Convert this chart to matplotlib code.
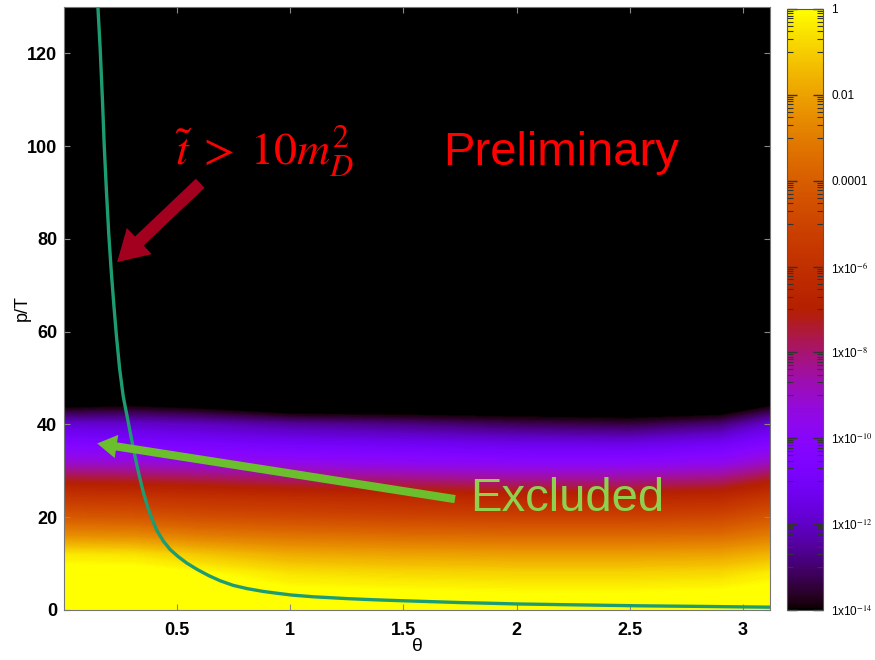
import numpy as np
import matplotlib
matplotlib.use('Agg')
import matplotlib.pyplot as plt
from matplotlib.colors import LogNorm
from matplotlib.cm import ScalarMappable
from matplotlib.ticker import FixedLocator, NullFormatter

plt.rcParams['font.family'] = ['Liberation Sans', 'DejaVu Sans']
plt.rcParams['mathtext.fontset'] = 'stix'

# grid of the rate map: log10 of the value on (theta, p/T) nodes
theta_nodes = [0.0, 0.3, 0.6, 1.0, 1.5, 2.0, 2.5, 2.9, 3.12]
p_nodes = [0, 4, 8, 12, 16, 20, 24, 28, 32, 36, 40, 44, 48, 130]
# one list per theta node, from p=0 upwards
log_col_000 = [0.5, 0.5, 0.3, -0.5, -2.5, -4.2, -5.6, -7.3, -9.2, -10.6, -11.8, -14.2, -15, -15]
log_col_030 = [0.5, 0.5, 0.3, -0.6, -2.6, -4.3, -5.7, -7.4, -9.3, -10.7, -11.9, -14.0, -15, -15]
log_col_060 = [0.4, 0.3, 0.0, -1.2, -3.0, -4.6, -5.9, -7.6, -9.5, -10.9, -12.1, -14.3, -15, -15]
log_col_100 = [0.3, 0.1, -0.6, -1.8, -3.3, -4.8, -6.1, -7.9, -9.7, -11.1, -12.5, -15, -15, -15]
log_col_150 = [0.3, 0.0, -0.8, -2.0, -3.5, -5.0, -6.3, -8.1, -9.9, -11.3, -12.8, -15, -15, -15]
log_col_200 = [0.3, -0.1, -0.9, -2.1, -3.6, -5.1, -6.5, -8.3, -10.1, -11.5, -13.2, -15, -15, -15]
log_col_250 = [0.3, -0.1, -0.9, -2.1, -3.6, -5.1, -6.5, -8.3, -10.1, -11.6, -13.4, -15, -15, -15]
log_col_290 = [0.3, 0.0, -0.8, -2.0, -3.5, -4.9, -6.3, -8.0, -9.8, -11.2, -12.9, -15, -15, -15]
log_col_312 = [0.4, 0.2, -0.4, -1.6, -3.0, -4.3, -5.6, -7.2, -9.0, -10.5, -11.8, -14.0, -15, -15]

# cut line t~ = 10 m_D^2
curve_theta = [0.150, 0.160, 0.170, 0.178, 0.188, 0.198, 0.209, 0.220, 0.232, 0.246, 0.262,
               0.278, 0.292, 0.310, 0.330, 0.350, 0.370, 0.390, 0.410, 0.440, 0.470, 0.505,
               0.543, 0.590, 0.640, 0.690, 0.748, 0.810, 0.880, 0.950, 1.010, 1.100, 1.250,
               1.370, 1.490, 1.620, 1.750, 1.880, 2.000, 2.270, 2.540, 2.850, 3.120]
curve_p = [130, 121, 110, 100, 90, 81, 73, 66, 59, 52, 46,
           42, 38.5, 34, 29.5, 25.5, 22.2, 19.5, 17.2, 14.8, 13.0, 11.5,
           10.1, 8.7, 7.4, 6.3, 5.3, 4.6, 4.0, 3.55, 3.2, 2.85, 2.45,
           2.2, 2.0, 1.8, 1.6, 1.45, 1.3, 1.1, 0.9, 0.75, 0.6]

cbar_ticks = [1, 1e-2, 1e-4, 1e-6, 1e-8, 1e-10, 1e-12, 1e-14]
cbar_labels = ['1', '0.01', '0.0001', r'1x10$^{-6}$', r'1x10$^{-8}$', r'1x10$^{-10}$',
               r'1x10$^{-12}$', r'1x10$^{-14}$']
# minor ticks: 1..9 x 10^n on the odd decades between the labelled ones
cbar_minor = [k * 10.0 ** e for e in range(-13, 0, 2) for k in range(1, 10)]

log_map = np.array([log_col_000, log_col_030, log_col_060, log_col_100, log_col_150,
                    log_col_200, log_col_250, log_col_290, log_col_312]).T

fig = plt.figure(figsize=(8.75, 6.6), dpi=100)
ax = fig.add_axes([0.0731, 0.0758, 0.8069, 0.9136])
cax = fig.add_axes([0.8994, 0.0758, 0.0411, 0.9106])

ax.contourf(theta_nodes, p_nodes, log_map, levels=np.linspace(-14, 0, 281), cmap='gnuplot',
            extend='both')
ax.plot(curve_theta, curve_p, color='#1d9c72', lw=2.4, solid_capstyle='round',
        solid_joinstyle='round')

ax.set_xlim(0, 3.12)
ax.set_ylim(0, 130)
ax.set_xticks([0.5, 1, 1.5, 2, 2.5, 3])
ax.set_xticklabels(['0.5', '1', '1.5', '2', '2.5', '3'])
ax.set_yticks([0, 20, 40, 60, 80, 100, 120])
ax.tick_params(direction='in', length=4, width=0.8, color='#888888', top=True, right=True,
               labelsize=13)
ax.tick_params(axis='x', pad=9)
ax.tick_params(axis='y', pad=5)
for lab in ax.get_xticklabels() + ax.get_yticklabels():
    lab.set_fontweight('bold')
for sp in ax.spines.values():
    sp.set_color('#777777')
    sp.set_linewidth(0.8)
ax.set_xlabel('θ', fontsize=14, labelpad=-1)
ax.set_ylabel('p/T', fontsize=13, labelpad=-3)

# annotations
ax.text(0.491, 95.9, r'$\tilde{t}\;>\;10m_D^2$', color='#ff0000', fontsize=33, va='baseline')
ax.text(1.675, 95.9, 'Preliminary', color='#ff0000', fontsize=34, va='baseline')
ax.text(1.794, 21.4, 'Excluded', color='#8fd14f', fontsize=34, va='baseline')
ax.annotate('', xy=(0.235, 75.0), xytext=(0.602, 92.0),
            arrowprops=dict(arrowstyle='simple,head_length=1.1,head_width=1.3,tail_width=0.45',
                            mutation_scale=20, color='#a3001f', lw=0, shrinkA=0, shrinkB=0))
ax.annotate('', xy=(0.147, 35.9), xytext=(1.728, 23.9),
            arrowprops=dict(arrowstyle='simple,head_length=1.0,head_width=1.2,tail_width=0.42',
                            mutation_scale=14, color='#6cbf2c', lw=0, shrinkA=0, shrinkB=0))

# colour bar on a log scale
sm = ScalarMappable(norm=LogNorm(1e-14, 1), cmap='gnuplot')
cb = fig.colorbar(sm, cax=cax)
cb.set_ticks(cbar_ticks)
cb.set_ticklabels(cbar_labels)
cb.ax.yaxis.set_minor_locator(FixedLocator(cbar_minor))
cb.ax.yaxis.set_minor_formatter(NullFormatter())
cb.ax.tick_params(which='major', direction='in', length=7, width=1.0, color='#333333',
                  left=True, right=True, labelsize=8.5, pad=6)
cb.ax.tick_params(which='minor', direction='in', length=4, width=0.8, color='#333333',
                  left=True, right=True)
cb.outline.set_edgecolor('#555555')
cb.outline.set_linewidth(0.8)

fig.savefig('out.png', dpi=100)
